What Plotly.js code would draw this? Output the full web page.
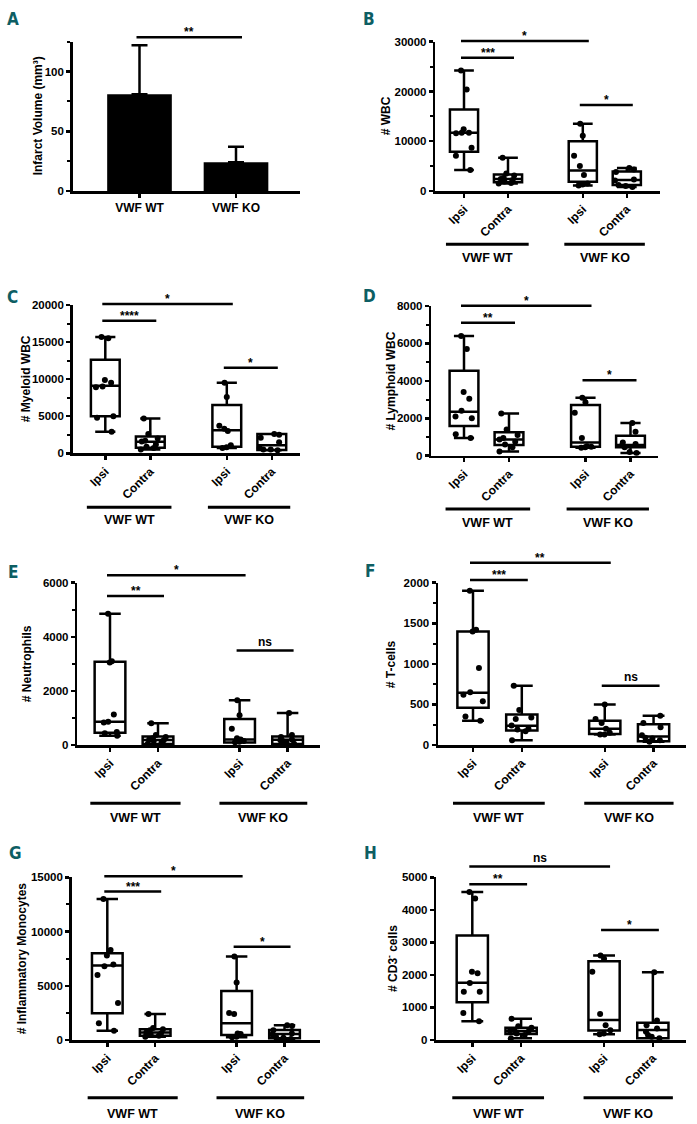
<!DOCTYPE html>
<html><head><meta charset="utf-8">
<script src="https://cdn.plot.ly/plotly-3.0.1.min.js"></script>
<style>html,body{margin:0;padding:0;background:#fff}#chart{width:697px;height:1124px}</style>
</head><body><div id="chart"></div>
<script>
// ---------------- DATA ----------------
// Panel A
const infarctGroups = ['VWF WT', 'VWF KO'];
const infarctMean = [81, 24];
const infarctErr = [41, 13];
const infarctSig = [[0, 1, 128.8, '**']];

// Shared categories
const sideLabels = ['Ipsi', 'Contra', 'Ipsi', 'Contra'];
const genotypeLabels = ['VWF WT', 'VWF KO'];

// Panel B  # WBC
const wbcPts = [
  [24200, 20400, 12400, 11700, 11700, 11600, 8700, 7100, 4200],
  [6700, 3500, 3100, 2600, 2400, 2200, 1900, 1600, 1500],
  [13500, 11100, 7100, 5000, 3200, 1500, 1300, 1100],
  [4600, 4300, 3800, 2300, 2100, 1200, 1000, 800]
];
const wbcQ1 = [7900, 1750, 1850, 1200];
const wbcMed = [11700, 2400, 4100, 2200];
const wbcQ3 = [16400, 3300, 10000, 3900];
const wbcSig = [[0, 2, 30150, '*'], [0, 1, 26800, '***'], [2, 3, 17300, '*']];

// Panel C  # Myeloid WBC
const myeloidPts = [
  [15700, 15500, 9900, 9500, 9000, 8900, 5000, 4800, 2900],
  [4700, 2600, 2000, 1700, 1600, 1200, 900, 700, 500],
  [9500, 7600, 3700, 3300, 3000, 1100, 800, 700],
  [2600, 2500, 2100, 1500, 700, 500, 500, 400]
];
const myeloidQ1 = [5000, 760, 900, 450];
const myeloidMed = [9100, 1570, 3100, 1080];
const myeloidQ3 = [12600, 2250, 6500, 2600];
const myeloidSig = [[0, 2, 20130, '*'], [0, 1, 17890, '****'], [2, 3, 11550, '*']];

// Panel D  # Lymphoid WBC
const lymphoidPts = [
  [6400, 5700, 3400, 3050, 2400, 2100, 2000, 1150, 950],
  [2250, 1400, 1100, 950, 870, 750, 600, 450, 230],
  [3100, 2850, 2300, 950, 500, 480, 450, 420],
  [1750, 1280, 700, 620, 560, 450, 200, 150]
];
const lymphoidQ1 = [1590, 570, 480, 445];
const lymphoidMed = [2350, 870, 700, 570];
const lymphoidQ3 = [4540, 1250, 2710, 1070];
const lymphoidSig = [[0, 2, 8020, '*'], [0, 1, 7110, '**'], [2, 3, 4030, '*']];

// Panel E  # Neutrophils
const neutroPts = [
  [4850, 3100, 3050, 1130, 860, 830, 480, 430, 340],
  [800, 370, 300, 250, 200, 180, 150, 100, 50],
  [1650, 1100, 600, 250, 200, 150, 120, 100],
  [1180, 370, 300, 200, 180, 150, 100, 50]
];
const neutroQ1 = [455, 40, 90, 40];
const neutroMed = [860, 185, 200, 190];
const neutroQ3 = [3080, 310, 960, 310];
const neutroSig = [[0, 2, 6280, '*'], [0, 1, 5510, '**'], [2, 3, 3490, 'ns']];

// Panel F  # T-cells
const tcellPts = [
  [1900, 1420, 1400, 950, 650, 620, 540, 350, 300],
  [730, 430, 340, 320, 240, 200, 190, 170, 60],
  [500, 320, 270, 200, 150, 130, 130],
  [360, 270, 220, 120, 90, 80, 60, 40]
];
const tcellQ1 = [460, 180, 135, 45];
const tcellMed = [645, 238, 200, 105];
const tcellQ3 = [1400, 375, 300, 255];
const tcellSig = [[0, 2, 2246, '**'], [0, 1, 2033, '***'], [2, 3, 731, 'ns']];

// Panel G  # Inflammatory Monocytes
const monoPts = [
  [13000, 8300, 7800, 6950, 6800, 6000, 3400, 1550, 850],
  [2400, 1100, 1000, 900, 700, 600, 500, 400, 300],
  [7700, 5300, 2500, 2400, 600, 550, 300, 250],
  [1350, 1300, 900, 600, 500, 300, 200, 100]
];
const monoQ1 = [2460, 400, 460, 150];
const monoMed = [6860, 680, 1540, 550];
const monoQ3 = [7990, 980, 4520, 920];
const monoSig = [[0, 2, 15100, '*'], [0, 1, 13680, '***'], [2, 3, 8600, '*']];

// Panel H  # CD3- cells
const cd3Pts = [
  [4550, 4350, 2100, 2050, 1750, 1480, 1480, 830, 580],
  [650, 420, 380, 300, 280, 250, 200, 150, 50],
  [2600, 2500, 2100, 800, 450, 300, 200, 180],
  [2080, 600, 450, 350, 250, 150, 100, 50]
];
const cd3Q1 = [1160, 185, 290, 50];
const cd3Med = [1760, 277, 615, 307];
const cd3Q3 = [3210, 380, 2420, 530];
const cd3Sig = [[0, 2, 5330, 'ns'], [0, 1, 4790, '**'], [2, 3, 3380, '*']];

// ---------------- LAYOUT HELPERS ----------------
const W = 697, H = 1124;
const FONT = 'Liberation Sans, Arial, Helvetica, sans-serif';
const LETTER_FONT = 'Liberation Sans Narrow, DejaVu Sans Condensed, Liberation Sans, sans-serif';
const LETTER_COLOR = '#0d5e63';
const boxPos = [0, 1, 2.7, 3.7];
const groupSpan = [[-0.41, 1.47], [2.28, 4.11]];

const xp = px => px / W;
const yp = py => 1 - py / H;
const axRef = (id, l) => id === 1 ? l : l + id;
const axKey = (id, l) => id === 1 ? l + 'axis' : l + 'axis' + id;

const data = [], shapes = [], annotations = [];
const layout = {
  width: W, height: H, margin: {l: 0, r: 0, t: 0, b: 0},
  paper_bgcolor: '#fff', plot_bgcolor: 'rgba(0,0,0,0)', showlegend: false,
  font: {family: FONT, color: '#000'}, shapes, annotations
};

function baseAxis() {
  return {showline: true, linecolor: '#000', linewidth: 2.5, ticks: 'outside', ticklen: 4,
    tickwidth: 2.5, tickcolor: '#000', showgrid: false, zeroline: false, fixedrange: true,
    automargin: false, tickfont: {family: FONT, size: 11.5, weight: 'bold', color: '#000'}};
}

function addYAxis(p) {
  const y = baseAxis();
  Object.assign(y, {
    domain: [yp(p.py[1]), yp(p.py[0])], range: [0, p.ymax], anchor: axRef(p.id, 'x'),
    tickmode: 'linear', tick0: 0, dtick: p.dtick, tickformat: 'd', separatethousands: false
  });
  if (p.minor) y.minor = {tickmode: 'linear', tick0: 0, dtick: p.minor, ticks: 'outside',
    ticklen: 3, tickwidth: 2, tickcolor: '#000', showgrid: false};
  layout[axKey(p.id, 'y')] = y;
}

function addCommonText(p) {
  annotations.push({
    xref: 'paper', yref: 'paper', x: xp(p.titleX), y: yp((p.py[0] + p.py[1]) / 2),
    text: p.title, textangle: -90, showarrow: false, xanchor: 'center', yanchor: 'middle',
    font: {family: FONT, size: 12, weight: 'bold', color: '#000'}
  });
  annotations.push({
    xref: 'paper', yref: 'paper', x: xp(p.letter[0]), y: yp(p.letter[1]), text: p.name,
    showarrow: false, xanchor: 'center', yanchor: 'middle',
    font: {family: LETTER_FONT, size: 17, weight: 'bold', color: LETTER_COLOR}
  });
}

function addSig(p, sig, pos) {
  const xr = axRef(p.id, 'x'), yr = axRef(p.id, 'y') + ' domain';
  const lo = -3 / p.unit, hi = 6 / p.unit;
  sig.forEach(([a, b, v, label]) => {
    const x0 = pos[a] + lo, x1 = pos[b] + hi, f = v / p.ymax;
    shapes.push({type: 'line', xref: xr, yref: yr, x0, x1, y0: f, y1: f, line: {color: '#000', width: 2.5}});
    annotations.push({
      xref: xr, yref: yr, x: (x0 + x1) / 2, y: f, text: label, showarrow: false,
      xanchor: 'center', yanchor: 'bottom', borderpad: 0, yshift: label === 'ns' ? 1 : -3,
      font: {family: FONT, size: 12, weight: 'bold', color: '#000'}
    });
  });
}

// ---------------- PANEL A ----------------
const pA = {id: 1, name: 'A', title: 'Infarct Volume (mm³)', px: [72.7, 300], py: [41.7, 191],
  first: 139.5, unit: 96.5, titleX: 38, letter: [13, 19], ymax: 125, dtick: 50, minor: 25};
const infarctPos = infarctGroups.map((_, i) => i);
data.push({
  type: 'bar', x: infarctPos, y: infarctMean, width: 0.67, marker: {color: '#000', line: {width: 0}},
  error_y: {type: 'data', symmetric: false, array: infarctErr, arrayminus: infarctErr.map(() => 0),
    color: '#000', thickness: 2.5, width: 8},
  hoverinfo: 'skip', xaxis: 'x', yaxis: 'y'
});
layout.xaxis = Object.assign(baseAxis(), {
  domain: [xp(pA.px[0]), xp(pA.px[1])], anchor: 'y',
  range: [(pA.px[0] - pA.first) / pA.unit, (pA.px[1] - pA.first) / pA.unit],
  tickmode: 'array', tickvals: infarctPos, ticktext: infarctGroups, tickangle: 0
});
layout.xaxis.tickfont = {family: FONT, size: 12, weight: 'bold', color: '#000'};
addYAxis(pA);
addCommonText(pA);
addSig(pA, infarctSig, infarctPos);

// ---------------- BOX PANELS ----------------
const boxPanels = [
  {id: 2, name: 'B', title: '# WBC', pts: wbcPts, q1: wbcQ1, med: wbcMed, q3: wbcQ3, sig: wbcSig,
    ymax: 30000, dtick: 10000, minor: 5000, px: [435.3, 659.7], py: [41.7, 191], first: 464, unit: 44,
    titleX: 386, letter: [369, 19], lineOff: 53.3, labelOff: 67},
  {id: 3, name: 'C', title: '# Myeloid WBC', pts: myeloidPts, q1: myeloidQ1, med: myeloidMed, q3: myeloidQ3, sig: myeloidSig,
    ymax: 20000, dtick: 5000, minor: 2500, px: [72.7, 300], py: [305, 453.3], first: 105.3, unit: 45,
    titleX: 26, letter: [12, 297], lineOff: 54, labelOff: 66.7},
  {id: 4, name: 'D', title: '# Lymphoid WBC', pts: lymphoidPts, q1: lymphoidQ1, med: lymphoidMed, q3: lymphoidQ3, sig: lymphoidSig,
    ymax: 8000, dtick: 2000, minor: 1000, px: [431.3, 658], py: [306, 455.7], first: 464, unit: 45,
    titleX: 390.7, letter: [369, 296], lineOff: 53.3, labelOff: 67},
  {id: 5, name: 'E', title: '# Neutrophils', pts: neutroPts, q1: neutroQ1, med: neutroMed, q3: neutroQ3, sig: neutroSig,
    ymax: 6000, dtick: 2000, minor: 1000, px: [77.3, 320], py: [582.7, 745], first: 110, unit: 48,
    titleX: 27.3, letter: [13, 572], lineOff: 58.3, labelOff: 73.3},
  {id: 6, name: 'F', title: '# T-cells', pts: tcellPts, q1: tcellQ1, med: tcellMed, q3: tcellQ3, sig: tcellSig,
    ymax: 2000, dtick: 500, minor: 250, px: [438, 686], py: [582.7, 745], first: 473, unit: 48.8,
    titleX: 391.3, letter: [369.5, 571], lineOff: 58.3, labelOff: 73},
  {id: 7, name: 'G', title: '# Inflammatory Monocytes', pts: monoPts, q1: monoQ1, med: monoMed, q3: monoQ3, sig: monoSig,
    ymax: 15000, dtick: 5000, minor: 2500, px: [71.7, 320], py: [877.3, 1040], first: 107.3, unit: 47.9,
    titleX: 21.7, letter: [15, 853], lineOff: 57.7, labelOff: 74},
  {id: 8, name: 'H', title: '# CD3<sup>-</sup> cells', pts: cd3Pts, q1: cd3Q1, med: cd3Med, q3: cd3Q3, sig: cd3Sig,
    ymax: 5000, dtick: 1000, minor: 0, px: [436.3, 686.3], py: [877.3, 1040], first: 472.3, unit: 48.8,
    titleX: 391.3, letter: [371, 853], lineOff: 57.7, labelOff: 74}
];

boxPanels.forEach(p => {
  const xr = axRef(p.id, 'x'), yr = axRef(p.id, 'y');
  // boxes from the summary statistics
  data.push({
    type: 'box', orientation: 'v', xaxis: xr, yaxis: yr, x: boxPos,
    q1: p.q1, median: p.med, q3: p.q3,
    lowerfence: p.pts.map(g => Math.min(...g)), upperfence: p.pts.map(g => Math.max(...g)),
    width: 0.64, whiskerwidth: 0.7, boxpoints: false,
    line: {color: '#000', width: 2.5}, fillcolor: 'rgba(255,255,255,0)', hoverinfo: 'skip'
  });
  // individual animals
  const px = [], py = [];
  p.pts.forEach((g, i) => g.forEach(v => { px.push(boxPos[i]); py.push(v); }));
  data.push({
    type: 'box', orientation: 'v', xaxis: xr, yaxis: yr, x: px, y: py,
    boxpoints: 'all', jitter: 0.9, pointpos: 0, width: 0.64, whiskerwidth: 0,
    line: {color: 'rgba(0,0,0,0)', width: 0}, fillcolor: 'rgba(0,0,0,0)',
    marker: {color: '#000', size: 6}, hoverinfo: 'skip'
  });

  layout[axKey(p.id, 'x')] = Object.assign(baseAxis(), {
    domain: [xp(p.px[0]), xp(p.px[1])], anchor: yr,
    range: [(p.px[0] - p.first) / p.unit, (p.px[1] - p.first) / p.unit],
    tickmode: 'array', tickvals: boxPos, ticktext: sideLabels, tickangle: -45
  });
  layout[axKey(p.id, 'x')].tickfont = {family: FONT, size: 12, weight: 'bold', color: '#000'};
  addYAxis(p);
  addCommonText(p);
  addSig(p, p.sig, boxPos);

  // genotype grouping lines and labels
  genotypeLabels.forEach((lab, gi) => {
    const [a, b] = groupSpan[gi];
    shapes.push({type: 'line', xref: xr, yref: 'paper', x0: a, x1: b,
      y0: yp(p.py[1] + p.lineOff), y1: yp(p.py[1] + p.lineOff), line: {color: '#000', width: 3}});
    annotations.push({xref: xr, yref: 'paper', x: (a + b) / 2, y: yp(p.py[1] + p.labelOff),
      text: lab, showarrow: false, xanchor: 'center', yanchor: 'middle',
      font: {family: FONT, size: 12.5, weight: 'bold', color: '#000'}});
  });
});

Plotly.newPlot('chart', data, layout, {staticPlot: true, displayModeBar: false});
</script>
</body></html>
